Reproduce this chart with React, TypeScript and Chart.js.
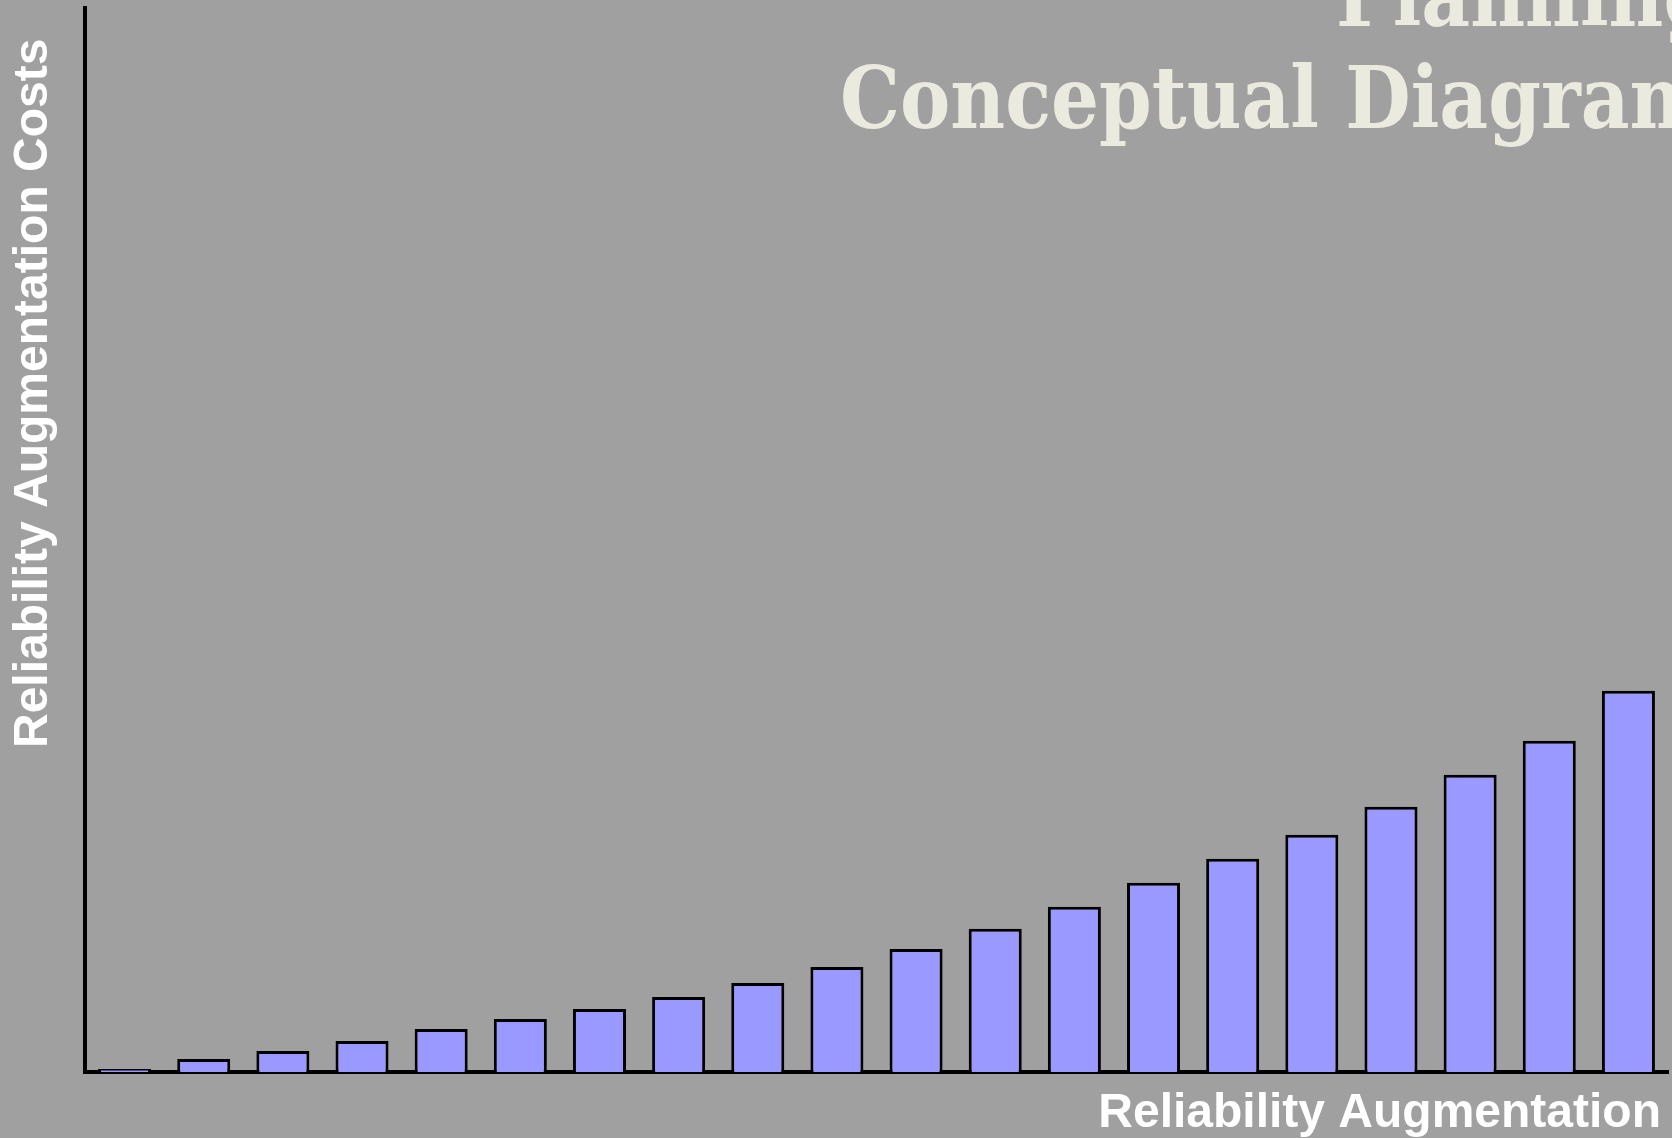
import React, { useEffect, useRef } from "react";
import { Chart, registerables } from "chart.js";

Chart.register(...registerables);

// ---- data ----
const categories = [
  "1", "2", "3", "4", "5", "6", "7", "8", "9", "10",
  "11", "12", "13", "14", "15", "16", "17", "18", "19", "20",
];
const costs = [3, 13, 21, 31, 43, 53, 63, 75, 89, 105, 123, 143, 165, 189, 213, 237, 265, 297, 331, 381];
const yMin = 0;
const yMax = 1063;
const titleLines = ["Planning", "Conceptual Diagram"];
const xAxisTitle = "Reliability Augmentation";
const yAxisTitle = "Reliability Augmentation Costs";

const textPlugin = {
  id: "conceptTexts",
  afterDraw(chart: any) {
    const ctx = chart.ctx as CanvasRenderingContext2D;
    // axis titles
    ctx.save();
    ctx.fillStyle = "#FFFFFF";
    ctx.font = "bold 48px 'Liberation Sans', Arial, sans-serif";
    ctx.textBaseline = "alphabetic";
    ctx.textAlign = "right";
    ctx.fillText(xAxisTitle, 1661, 1127);
    ctx.translate(47, 748);
    ctx.rotate(-Math.PI / 2);
    ctx.textAlign = "left";
    ctx.fillText(yAxisTitle, 0, 0);
    ctx.restore();

    // title (serif bold, partly outside the picture)
    ctx.save();
    ctx.font = "bold 86px 'DejaVu Serif', serif";
    ctx.fillStyle = "#EAEADF";
    ctx.textAlign = "left";
    ctx.textBaseline = "alphabetic";
    const s = 479 / ctx.measureText("Conceptual").width;
    ctx.save();
    ctx.translate(1336, 26);
    ctx.scale(s, 1);
    ctx.fillText(titleLines[0], 0, 0);
    ctx.restore();
    ctx.save();
    ctx.translate(840, 128);
    ctx.scale(s, 1);
    ctx.fillText(titleLines[1], 0, 0);
    ctx.restore();
    ctx.restore();
  },
};

export default function App() {
  const canvasRef = useRef<HTMLCanvasElement | null>(null);

  useEffect(() => {
    if (!canvasRef.current) return;
    const chart = new Chart(canvasRef.current, {
      type: "bar",
      data: {
        labels: categories,
        datasets: [
          {
            label: "Reliability Augmentation Costs",
            data: costs,
            backgroundColor: "#9999FF",
            borderColor: "#000000",
            borderWidth: 3,
            borderSkipped: "bottom",
            barPercentage: 0.67,
            categoryPercentage: 1,
          },
        ],
      },
      options: {
        responsive: false,
        animation: false,
        devicePixelRatio: 1,
        layout: { padding: { left: 85, right: 4, top: 8, bottom: 66 } },
        plugins: {
          legend: { display: false },
          title: { display: false },
          tooltip: { enabled: false },
        },
        scales: {
          x: {
            type: "category",
            grid: { display: false, drawTicks: false },
            ticks: { display: false },
            border: { display: true, color: "#000000", width: 4 },
          },
          y: {
            min: yMin,
            max: yMax,
            grid: { display: false, drawTicks: false },
            ticks: { display: false },
            border: { display: true, color: "#000000", width: 4 },
          },
        },
      },
      plugins: [textPlugin],
    });
    return () => chart.destroy();
  }, []);

  return (
    <div
      style={{
        position: "fixed",
        left: 0,
        top: 0,
        width: 1672,
        height: 1138,
        background: "#A0A0A0",
        overflow: "hidden",
      }}
    >
      <canvas ref={canvasRef} width={1672} height={1138} style={{ display: "block" }} />
    </div>
  );
}
